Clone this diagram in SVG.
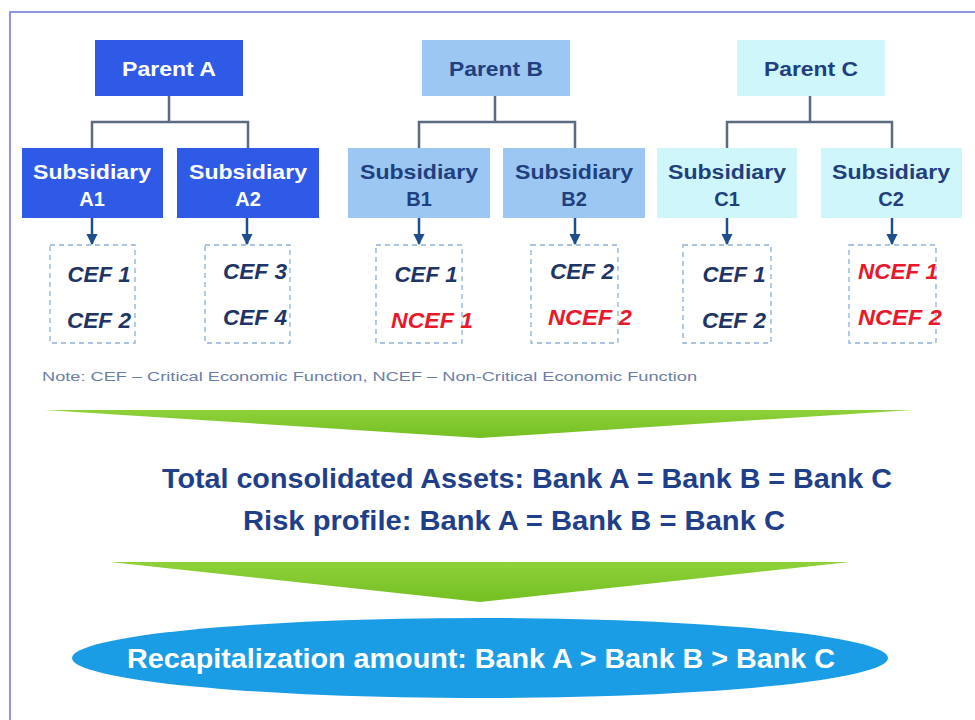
<svg xmlns="http://www.w3.org/2000/svg" width="975" height="720" viewBox="0 0 975 720">
  <defs>
    <style>
      .t { font-family: "Liberation Sans", Arial, sans-serif; font-weight: bold; text-anchor: middle; }
      .box-a { fill: #2f5ae6; }
      .box-b { fill: #9cc7f2; }
      .box-c { fill: #cff6fb; }
      .lbl-w { fill: #ffffff; font-size: 20px; }
      .lbl-d { fill: #1f3f7e; font-size: 20px; }
      .fn { fill: none; stroke: #8fb0d6; stroke-width: 1.3; stroke-dasharray: 5 4; }
      .cef { font-size: 22px; font-style: italic; fill: #1f3566; }
      .ncef { font-size: 22px; font-style: italic; fill: #e8192c; }
      .tree { fill: none; stroke: #5b6b82; stroke-width: 2.5; }
      .down { fill: none; stroke: #1f4e8c; stroke-width: 2.5; marker-end: url(#head); }
      .green { fill: url(#grn); }
    </style>
    <marker id="head" viewBox="0 0 10 10" refX="9" refY="5" markerWidth="4.5" markerHeight="4.5" orient="auto" markerUnits="strokeWidth">
      <path d="M0,0 L10,5 L0,10 z" fill="#1f4e8c"/>
    </marker>
    <linearGradient id="grn" x1="0" y1="0" x2="0" y2="1">
      <stop offset="0" stop-color="#8fd13a"/>
      <stop offset="1" stop-color="#74bf22"/>
    </linearGradient>
  </defs>

  <rect width="975" height="720" fill="#ffffff"/>
  <!-- outer frame -->
  <rect x="10" y="12" width="975" height="720" fill="none" stroke="#8f95e2" stroke-width="2"/>

  <!-- tree connectors and arrows -->
  <g id="connectors">
    <path class="tree" d="M169,96 V122 M92,148 V122 H248 V148"/>
    <path class="tree" d="M495,96 V122 M419,148 V122 H575 V148"/>
    <path class="tree" d="M810,96 V122 M727,148 V122 H892 V148"/>
    <line class="down" x1="92" y1="218" x2="92" y2="244"/>
    <line class="down" x1="247" y1="218" x2="247" y2="244"/>
    <line class="down" x1="419" y1="218" x2="419" y2="244"/>
    <line class="down" x1="575" y1="218" x2="575" y2="244"/>
    <line class="down" x1="727" y1="218" x2="727" y2="244"/>
    <line class="down" x1="892" y1="218" x2="892" y2="244"/>
  </g>

  <!-- parents -->
  <g id="parent-a">
    <rect class="box-a" x="95" y="40" width="148" height="56"/>
    <text class="t lbl-w" x="169" y="76" textLength="94" lengthAdjust="spacingAndGlyphs">Parent A</text>
  </g>
  <g id="parent-b">
    <rect class="box-b" x="422" y="40" width="148" height="56"/>
    <text class="t lbl-d" x="496" y="76" textLength="94" lengthAdjust="spacingAndGlyphs">Parent B</text>
  </g>
  <g id="parent-c">
    <rect class="box-c" x="737" y="40" width="148" height="56"/>
    <text class="t lbl-d" x="811" y="76" textLength="94" lengthAdjust="spacingAndGlyphs">Parent C</text>
  </g>

  <!-- subsidiaries -->
  <g id="sub-a1">
    <rect class="box-a" x="22" y="148" width="141" height="70"/>
    <text class="t lbl-w" x="92" y="179" textLength="118" lengthAdjust="spacingAndGlyphs">Subsidiary</text>
    <text class="t lbl-w" x="92" y="206">A1</text>
  </g>
  <g id="sub-a2">
    <rect class="box-a" x="177" y="148" width="142" height="70"/>
    <text class="t lbl-w" x="248" y="179" textLength="118" lengthAdjust="spacingAndGlyphs">Subsidiary</text>
    <text class="t lbl-w" x="248" y="206">A2</text>
  </g>
  <g id="sub-b1">
    <rect class="box-b" x="348" y="148" width="142" height="70"/>
    <text class="t lbl-d" x="419" y="179" textLength="118" lengthAdjust="spacingAndGlyphs">Subsidiary</text>
    <text class="t lbl-d" x="419" y="206">B1</text>
  </g>
  <g id="sub-b2">
    <rect class="box-b" x="503" y="148" width="142" height="70"/>
    <text class="t lbl-d" x="574" y="179" textLength="118" lengthAdjust="spacingAndGlyphs">Subsidiary</text>
    <text class="t lbl-d" x="574" y="206">B2</text>
  </g>
  <g id="sub-c1">
    <rect class="box-c" x="657" y="148" width="140" height="70"/>
    <text class="t lbl-d" x="727" y="179" textLength="118" lengthAdjust="spacingAndGlyphs">Subsidiary</text>
    <text class="t lbl-d" x="727" y="206">C1</text>
  </g>
  <g id="sub-c2">
    <rect class="box-c" x="821" y="148" width="141" height="70"/>
    <text class="t lbl-d" x="891" y="179" textLength="118" lengthAdjust="spacingAndGlyphs">Subsidiary</text>
    <text class="t lbl-d" x="891" y="206">C2</text>
  </g>

  <!-- economic functions -->
  <g id="fn-a1">
    <rect class="fn" x="50" y="245" width="85" height="98"/>
    <text class="t cef" x="99" y="282" textLength="63" lengthAdjust="spacingAndGlyphs">CEF 1</text>
    <text class="t cef" x="99" y="328" textLength="64" lengthAdjust="spacingAndGlyphs">CEF 2</text>
  </g>
  <g id="fn-a2">
    <rect class="fn" x="205" y="245" width="85" height="98"/>
    <text class="t cef" x="255" y="279" textLength="64" lengthAdjust="spacingAndGlyphs">CEF 3</text>
    <text class="t cef" x="255" y="325" textLength="64" lengthAdjust="spacingAndGlyphs">CEF 4</text>
  </g>
  <g id="fn-b1">
    <rect class="fn" x="376" y="245" width="86" height="98"/>
    <text class="t cef" x="426" y="282" textLength="63" lengthAdjust="spacingAndGlyphs">CEF 1</text>
    <text class="t ncef" x="432" y="328" textLength="82" lengthAdjust="spacingAndGlyphs">NCEF 1</text>
  </g>
  <g id="fn-b2">
    <rect class="fn" x="531" y="245" width="87" height="98"/>
    <text class="t cef" x="582" y="279" textLength="64" lengthAdjust="spacingAndGlyphs">CEF 2</text>
    <text class="t ncef" x="590" y="325" textLength="84" lengthAdjust="spacingAndGlyphs">NCEF 2</text>
  </g>
  <g id="fn-c1">
    <rect class="fn" x="683" y="245" width="88" height="98"/>
    <text class="t cef" x="734" y="282" textLength="63" lengthAdjust="spacingAndGlyphs">CEF 1</text>
    <text class="t cef" x="734" y="328" textLength="64" lengthAdjust="spacingAndGlyphs">CEF 2</text>
  </g>
  <g id="fn-c2">
    <rect class="fn" x="849" y="245" width="87" height="98"/>
    <text class="t ncef" x="898" y="279" textLength="80" lengthAdjust="spacingAndGlyphs">NCEF 1</text>
    <text class="t ncef" x="900" y="325" textLength="84" lengthAdjust="spacingAndGlyphs">NCEF 2</text>
  </g>

  <text x="42" y="381" font-family="'Liberation Sans', Arial, sans-serif" font-size="13" fill="#6b7ea8" textLength="655" lengthAdjust="spacingAndGlyphs">Note: CEF – Critical Economic Function, NCEF – Non-Critical Economic Function</text>

  <!-- flow -->
  <polygon class="green" points="45,410 912,410 480,438"/>
  <text class="t" x="527" y="488" font-size="27" fill="#1f3f8a" textLength="730" lengthAdjust="spacingAndGlyphs">Total consolidated Assets: Bank A = Bank B = Bank C</text>
  <text class="t" x="514" y="530" font-size="27" fill="#1f3f8a" textLength="542" lengthAdjust="spacingAndGlyphs">Risk profile:  Bank A = Bank B = Bank C</text>
  <polygon class="green" points="110,562 850,562 480,602"/>

  <g id="result">
    <ellipse cx="480" cy="658" rx="408" ry="40" fill="#1b9de6"/>
    <text class="t" x="481" y="668" font-size="27" fill="#ffffff" textLength="708" lengthAdjust="spacingAndGlyphs">Recapitalization amount: Bank A &gt; Bank B &gt; Bank C</text>
  </g>
</svg>
